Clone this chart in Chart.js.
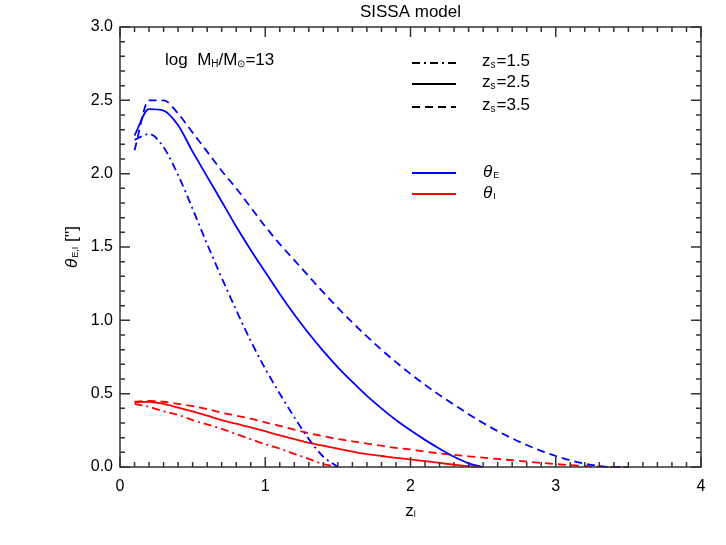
<!DOCTYPE html>
<html>
<head>
<meta charset="utf-8">
<script src="https://cdn.jsdelivr.net/npm/chart.js@4"></script>
<style>
  body { margin: 0; background: #fff; }
  #wrap { width: 726px; height: 545px; }
</style>
</head>
<body>
<div id="wrap"><canvas id="chart" width="726" height="545"></canvas></div>
<script>
// lens redshift grids for each source redshift
const zl15 = [0.1,0.2,0.3,0.4,0.5,0.6,0.7,0.8,0.9,1.0,1.1,1.2,1.3,1.4,1.5];
const zl25 = [0.1,0.2,0.3,0.4,0.5,0.6,0.7,0.8,0.9,1.0,1.1,1.2,1.3,1.4,1.5,1.6,1.7,1.8,1.9,2.0,2.1,2.2,2.3,2.4,2.5];
const zl35 = [0.1,0.2,0.3,0.4,0.5,0.6,0.7,0.8,0.9,1.0,1.1,1.2,1.3,1.4,1.5,1.6,1.7,1.8,1.9,2.0,2.1,2.2,2.3,2.4,2.5,2.6,2.7,2.8,2.9,3.0,3.1,3.2,3.3,3.4,3.5];

// theta_E (blue) and theta_I (red), arcsec
const thetaE15 = [2.23,2.27,2.18,1.99,1.76,1.52,1.29,1.07,0.86,0.67,0.50,0.34,0.19,0.07,0.0];
const thetaI15 = [0.43,0.41,0.38,0.355,0.32,0.29,0.26,0.225,0.19,0.155,0.125,0.09,0.055,0.02,0.0];
const thetaE25 = [2.26,2.44,2.43,2.33,2.15,1.98,1.81,1.64,1.48,1.33,1.18,1.04,0.91,0.79,0.68,0.58,0.485,0.40,0.32,0.25,0.185,0.125,0.07,0.025,0.0];
const thetaI25 = [0.44,0.445,0.43,0.405,0.38,0.35,0.32,0.295,0.27,0.245,0.215,0.19,0.165,0.145,0.125,0.105,0.088,0.075,0.062,0.052,0.04,0.028,0.016,0.006,0.0];
const thetaE35 = [2.16,2.50,2.50,2.41,2.28,2.15,2.02,1.90,1.77,1.64,1.52,1.41,1.30,1.19,1.085,0.985,0.89,0.80,0.715,0.635,0.56,0.49,0.425,0.36,0.30,0.245,0.195,0.15,0.11,0.075,0.045,0.022,0.007,0.0,0.0];
const thetaI35 = [0.445,0.45,0.445,0.43,0.415,0.395,0.37,0.35,0.33,0.305,0.28,0.255,0.23,0.21,0.19,0.175,0.16,0.145,0.13,0.12,0.105,0.093,0.083,0.073,0.064,0.055,0.046,0.037,0.028,0.02,0.013,0.007,0.003,0.0,0.0];

const sourceLabels = ['1.5', '2.5', '3.5'];

const DASHDOT = [8, 4, 2, 4];
const DASH = [8, 5];
const FONT = '"Liberation Sans", Arial, sans-serif';

function pts(xs, ys) {
  return xs.map((x, i) => ({ x: x, y: ys[i] }));
}

function ds(xs, ys, color, dash) {
  return {
    data: pts(xs, ys),
    borderColor: color,
    borderWidth: 1.8,
    borderDash: dash,
    pointRadius: 0,
    cubicInterpolationMode: 'monotone',
    fill: false,
    clip: 4
  };
}

// text with a subscript, drawn left to right from x
function subText(ctx, parts, x, y) {
  for (const p of parts) {
    ctx.font = (p.italic ? 'italic ' : '') + p.size + 'px ' + FONT;
    ctx.fillText(p.t, x, y + (p.dy || 0));
    x += ctx.measureText(p.t).width + (p.gap || 0);
  }
  return x;
}
function subWidth(ctx, parts) {
  let w = 0;
  for (const p of parts) {
    ctx.font = (p.italic ? 'italic ' : '') + p.size + 'px ' + FONT;
    w += ctx.measureText(p.t).width + (p.gap || 0);
  }
  return w;
}

const decorations = {
  id: 'decorations',
  afterDatasetsDraw(chart) {
    const ctx = chart.ctx;
    const a = chart.chartArea;
    const xs = chart.scales.x, ys = chart.scales.y;
    ctx.save();
    ctx.strokeStyle = '#333';
    ctx.lineWidth = 1.5;
    ctx.setLineDash([]);
    ctx.strokeRect(a.left, a.top, a.right - a.left, a.bottom - a.top);

    // inward ticks on all four sides
    ctx.beginPath();
    for (let i = 0; i <= 40; i++) {
      const px = xs.getPixelForValue(i / 10);
      const len = i % 10 === 0 ? 10 : 5;
      ctx.moveTo(px, a.bottom); ctx.lineTo(px, a.bottom - len);
      ctx.moveTo(px, a.top); ctx.lineTo(px, a.top + len);
    }
    for (let i = 0; i <= 30; i++) {
      const py = ys.getPixelForValue(i / 10);
      const len = i % 5 === 0 ? 10 : 5;
      ctx.moveTo(a.left, py); ctx.lineTo(a.left + len, py);
      ctx.moveTo(a.right, py); ctx.lineTo(a.right - len, py);
    }
    ctx.stroke();

    ctx.fillStyle = '#000';
    ctx.textBaseline = 'middle';

    // title
    ctx.textAlign = 'center';
    ctx.font = '17px ' + FONT;
    ctx.fillText('SISSA model', (a.left + a.right) / 2, 12);

    ctx.textAlign = 'left';
    // mass label
    subText(ctx, [
      { t: 'log  M', size: 17 },
      { t: 'H', size: 10, dy: 4 },
      { t: '/M', size: 17 },
      { t: '\u2299', size: 10, dy: 4 },
      { t: '=13', size: 17 }
    ], 165, 60);

    // line style legend
    const rows = [63, 84, 107];
    const dashes = [DASHDOT, [], DASH];
    ctx.strokeStyle = '#000';
    ctx.lineWidth = 1.8;
    rows.forEach((y, i) => {
      ctx.setLineDash(dashes[i]);
      ctx.beginPath(); ctx.moveTo(412, y); ctx.lineTo(456, y); ctx.stroke();
      subText(ctx, [
        { t: 'z', size: 17 },
        { t: 's', size: 10, dy: 4, gap: 1 },
        { t: '=' + sourceLabels[i], size: 17 }
      ], 482, y - 2);
    });

    // colour legend
    ctx.setLineDash([]);
    [[173, '#0000ff', 'E'], [194, '#ff0000', 'I']].forEach(([y, c, s]) => {
      ctx.strokeStyle = c;
      ctx.beginPath(); ctx.moveTo(412, y); ctx.lineTo(456, y); ctx.stroke();
      subText(ctx, [
        { t: '\u03b8', size: 17, italic: true, gap: 1 },
        { t: s, size: 9, dy: 4 }
      ], 483, y - 1);
    });

    // x axis title
    const xl = [{ t: 'z', size: 17 }, { t: 'l', size: 9, dy: 4 }];
    subText(ctx, xl, (a.left + a.right) / 2 - subWidth(ctx, xl) / 2, 511);

    // y axis title, rotated
    const yl = [
      { t: '\u03b8', size: 17, italic: true, gap: 1 },
      { t: 'E,I', size: 9, dy: 4 },
      { t: " ['']", size: 17 }
    ];
    ctx.translate(72, (a.top + a.bottom) / 2);
    ctx.rotate(-Math.PI / 2);
    subText(ctx, yl, -subWidth(ctx, yl) / 2, 0);
    ctx.restore();
  }
};

new Chart(document.getElementById('chart'), {
  type: 'line',
  data: {
    datasets: [
      ds(zl15, thetaE15, '#0000ff', DASHDOT),
      ds(zl25, thetaE25, '#0000ff', []),
      ds(zl35, thetaE35, '#0000ff', DASH),
      ds(zl15, thetaI15, '#ff0000', DASHDOT),
      ds(zl25, thetaI25, '#ff0000', []),
      ds(zl35, thetaI35, '#ff0000', DASH)
    ]
  },
  plugins: [decorations],
  options: {
    responsive: false,
    animation: false,
    events: [],
    layout: { padding: { top: 27, right: 25, left: 0, bottom: 0 } },
    plugins: {
      legend: { display: false },
      tooltip: { enabled: false },
      title: { display: false }
    },
    scales: {
      x: {
        type: 'linear',
        min: 0, max: 4,
        afterFit: (s) => { s.height = 78; },
        grid: { display: false, drawTicks: false },
        border: { display: false },
        ticks: {
          stepSize: 1,
          padding: 10,
          color: '#000',
          maxRotation: 0,
          font: { family: FONT, size: 16 },
          callback: (v) => v.toFixed(0)
        }
      },
      y: {
        min: 0, max: 3,
        afterFit: (s) => { s.width = 120; },
        grid: { display: false, drawTicks: false },
        border: { display: false },
        ticks: {
          stepSize: 0.5,
          padding: 7,
          color: '#000',
          font: { family: FONT, size: 16 },
          callback: (v) => v.toFixed(1)
        }
      }
    }
  }
});
</script>
</body>
</html>
